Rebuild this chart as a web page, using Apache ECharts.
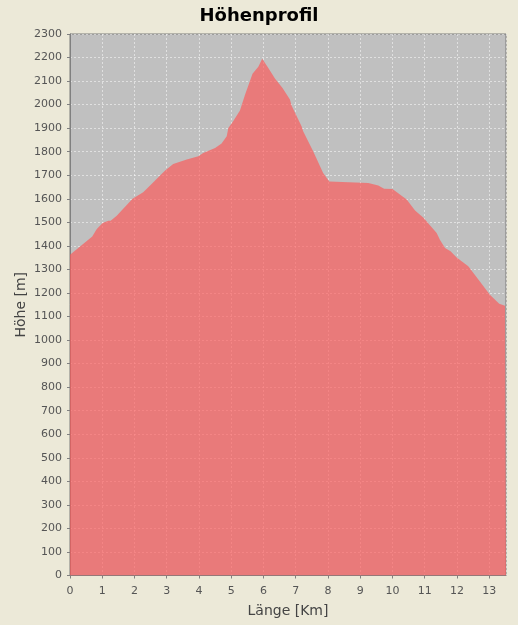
<!DOCTYPE html>
<html>
<head>
<meta charset="utf-8">
<script src="https://cdn.jsdelivr.net/npm/echarts@6/dist/echarts.min.js"></script>
<style>
html,body{margin:0;padding:0;background:#ECE9D8;}
#c{width:518px;height:625px;}
</style>
</head>
<body>
<div id="c"></div>
<script>
var title = "Höhenprofil";
var xName = "Länge [Km]";
var yName = "Höhe [m]";
var distanceKm = [0, 0.69, 0.83, 1.01, 1.19, 1.26, 1.45, 1.60, 1.94, 2.27, 2.53, 2.95, 3.20, 3.62, 3.98, 4.13, 4.50, 4.70, 4.86, 4.91, 5.06, 5.27, 5.43, 5.66, 5.84, 5.96, 6.15, 6.36, 6.59, 6.82, 6.87, 7.18, 7.23, 7.54, 7.85, 8.04, 9.25, 9.56, 9.74, 10.0, 10.44, 10.70, 10.96, 11.37, 11.47, 11.63, 11.80, 11.99, 12.35, 12.71, 13.02, 13.31, 13.49, 13.52];
var elevationM = [1362, 1440, 1472, 1497, 1507, 1507, 1528, 1550, 1600, 1628, 1663, 1720, 1748, 1767, 1781, 1795, 1816, 1835, 1866, 1901, 1929, 1975, 2043, 2131, 2161, 2195, 2156, 2110, 2071, 2022, 1996, 1908, 1887, 1802, 1710, 1674, 1667, 1657, 1643, 1642, 1597, 1550, 1519, 1455, 1426, 1391, 1377, 1351, 1313, 1249, 1193, 1154, 1146, 1146];

var points = distanceKm.map(function(d, i){ return [d, elevationM[i]]; });
var font = "DejaVu Sans";
var chart = echarts.init(document.getElementById('c'));
chart.setOption({
  backgroundColor: '#ECE9D8',
  animation: false,
  title: {
    text: title, left: 'center', top: 2,
    textStyle: {fontFamily: font, fontWeight: 'bold', fontSize: 18, color: '#000'}
  },
  grid: {
    left: 70, right: 12, top: 34, bottom: 49.5,
    show: true, backgroundColor: '#C0C0C0', borderColor: '#7a7a7a', borderWidth: 1
  },
  xAxis: {
    type: 'value', min: 0, max: 13.52, interval: 1,
    offset: 4,
    name: xName, nameLocation: 'middle', nameGap: 25, nameMoveOverlap: false,
    nameTextStyle: {fontFamily: font, fontSize: 14, color: '#444'},
    axisLine: {show: true, lineStyle: {color: '#808080', width: 1}},
    axisTick: {show: true, length: 3, lineStyle: {color: '#808080'}},
    axisLabel: {fontFamily: font, fontSize: 11, color: '#555', margin: 6, showMaxLabel: false,
      formatter: function(v){ return String(v); }},
    splitLine: {show: true, lineStyle: {color: 'rgba(255,255,255,0.5)', type: [2, 2], width: 1}}
  },
  yAxis: {
    type: 'value', min: 0, max: 2300, interval: 100,
    offset: 3,
    name: yName, nameLocation: 'middle', nameGap: 39, nameMoveOverlap: false,
    nameTextStyle: {fontFamily: font, fontSize: 14, color: '#444'},
    axisLine: {show: true, lineStyle: {color: '#808080', width: 1}},
    axisTick: {show: true, length: 3, lineStyle: {color: '#808080'}},
    axisLabel: {fontFamily: font, fontSize: 11, color: '#555', margin: 5,
      formatter: function(v){ return String(v); }},
    splitLine: {show: true, lineStyle: {color: 'rgba(255,255,255,0.5)', type: [2, 2], width: 1}}
  },
  series: [{
    type: 'line',
    data: points,
    showSymbol: false,
    sampling: 'none',
    lineStyle: {width: 0, opacity: 0},
    areaStyle: {color: '#FF5555', opacity: 0.65},
    silent: true
  }]
});
</script>
</body>
</html>
